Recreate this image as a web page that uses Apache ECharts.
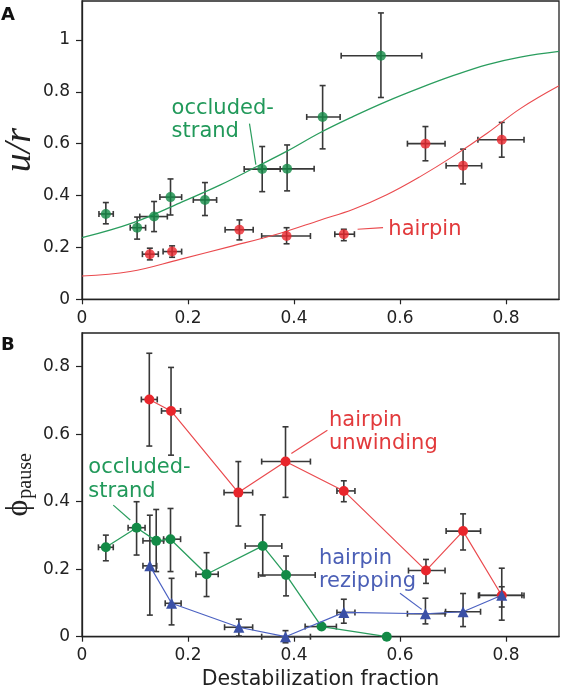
<!DOCTYPE html>
<html>
<head>
<meta charset="utf-8">
<script src="https://cdn.jsdelivr.net/npm/echarts@6/dist/echarts.min.js"></script>
<style>
html,body{margin:0;padding:0;background:#fff;}
#c{width:561px;height:686px;}
</style>
</head>
<body>
<div id="c"></div>
<script>
// ---------- data ----------
const xTicks = [0, 0.2, 0.4, 0.6, 0.8];
const yTicksA = [0, 0.2, 0.4, 0.6, 0.8, 1];
const yTicksB = [0, 0.2, 0.4, 0.6, 0.8];

// rows: [x, y, xLow, xHigh, yLow, yHigh]
const occludedA = [
  [0.045, 0.329, 0.032, 0.059, 0.291, 0.373],
  [0.104, 0.276, 0.091, 0.120, 0.232, 0.317],
  [0.136, 0.319, 0.109, 0.161, 0.261, 0.377],
  [0.167, 0.394, 0.147, 0.188, 0.325, 0.464],
  [0.232, 0.383, 0.210, 0.254, 0.323, 0.450],
  [0.340, 0.502, 0.306, 0.374, 0.415, 0.589],
  [0.387, 0.503, 0.340, 0.438, 0.418, 0.595],
  [0.454, 0.703, 0.424, 0.487, 0.580, 0.824],
  [0.564, 0.939, 0.489, 0.641, 0.778, 1.104]
];
const hairpinA = [
  [0.128, 0.174, 0.114, 0.144, 0.152, 0.197],
  [0.170, 0.184, 0.153, 0.188, 0.162, 0.206],
  [0.297, 0.268, 0.270, 0.323, 0.229, 0.306],
  [0.386, 0.244, 0.339, 0.431, 0.214, 0.276],
  [0.494, 0.251, 0.477, 0.514, 0.226, 0.270],
  [0.648, 0.600, 0.614, 0.685, 0.534, 0.666],
  [0.719, 0.515, 0.687, 0.754, 0.445, 0.579],
  [0.792, 0.615, 0.747, 0.834, 0.548, 0.682]
];
// model curves, sampled off the figure
const curveOccludedA = [
  [0, 0.238], [0.097, 0.296], [0.185, 0.372], [0.26, 0.44], [0.33, 0.512],
  [0.386, 0.57], [0.449, 0.642], [0.512, 0.705], [0.575, 0.763], [0.638, 0.815],
  [0.70, 0.862], [0.765, 0.905], [0.827, 0.934], [0.9, 0.956]
];
const curveHairpinA = [
  [0, 0.09], [0.091, 0.107], [0.185, 0.154], [0.279, 0.203], [0.374, 0.255],
  [0.449, 0.305], [0.512, 0.347], [0.575, 0.403], [0.638, 0.473], [0.70, 0.551],
  [0.765, 0.641], [0.827, 0.735], [0.9, 0.823]
];

const unwindingB = [
  [0.127, 0.703, 0.112, 0.142, 0.565, 0.840],
  [0.168, 0.669, 0.150, 0.186, 0.538, 0.798],
  [0.295, 0.427, 0.268, 0.322, 0.328, 0.519],
  [0.384, 0.519, 0.339, 0.431, 0.413, 0.622],
  [0.494, 0.432, 0.481, 0.515, 0.400, 0.462],
  [0.649, 0.196, 0.616, 0.685, 0.158, 0.229],
  [0.719, 0.313, 0.687, 0.752, 0.257, 0.364],
  [0.792, 0.122, 0.748, 0.834, 0.049, 0.203]
];
const occludedB = [
  [0.045, 0.265, 0.031, 0.059, 0.225, 0.301],
  [0.103, 0.323, 0.087, 0.119, 0.242, 0.400],
  [0.140, 0.284, 0.115, 0.154, 0.193, 0.377],
  [0.167, 0.289, 0.154, 0.186, 0.193, 0.380],
  [0.235, 0.185, 0.215, 0.257, 0.119, 0.249],
  [0.341, 0.269, 0.308, 0.377, 0.180, 0.361],
  [0.385, 0.183, 0.333, 0.440, 0.121, 0.239],
  [0.452, 0.030, 0.421, 0.480, null, null],
  [0.575, 0.000, null, null, null, null]
];
const rezippingB = [
  [0.128, 0.210, 0.115, 0.141, 0.064, 0.360],
  [0.169, 0.099, 0.157, 0.187, 0.035, 0.173],
  [0.296, 0.028, 0.269, 0.322, 0.002, 0.052],
  [0.384, 0.000, 0.339, 0.431, -0.018, 0.018],
  [0.494, 0.072, 0.481, 0.515, 0.040, 0.111],
  [0.648, 0.068, 0.614, 0.685, 0.038, 0.114],
  [0.719, 0.074, 0.686, 0.752, 0.030, 0.128],
  [0.792, 0.123, 0.750, 0.830, 0.088, 0.148]
];

// ---------- styles ----------
const GREEN = '#138a46', GREEN_T = '#21995a', GREEN_L = '#2a9d5e';
const RED = '#e8262c', RED_T = '#e23a3c', RED_L = '#ea4a4e';
const BLUE = '#3a50a6', BLUE_T = '#4b5fb6', BLUE_L = '#4c62c2';
const AX = '#222';
const ERR = '#383838';
const SANS = '"DejaVu Sans", sans-serif';
const SERIF = '"Liberation Serif", "DejaVu Serif", serif';

const chart = echarts.init(document.getElementById('c'), null, {renderer: 'canvas'});

function errSeries(rows, xi, yi, z) {
  return {
    type: 'custom', xAxisIndex: xi, yAxisIndex: yi, z: z || 1, silent: true,
    data: rows.map(r => r.map(v => v === null ? '-' : v)),
    encode: {x: 0, y: 1},
    clip: false,
    renderItem: function (params, api) {
      const x = api.value(0), y = api.value(1);
      const xl = api.value(2), xh = api.value(3), yl = api.value(4), yh = api.value(5);
      const cap = 3;
      const children = [];
      const ls = {stroke: ERR, lineWidth: 1.6};
      if (!isNaN(yl) && !isNaN(yh)) {
        const a = api.coord([x, yl]), b = api.coord([x, yh]);
        children.push({type: 'line', shape: {x1: a[0], y1: a[1], x2: b[0], y2: b[1]}, style: ls});
        children.push({type: 'line', shape: {x1: a[0] - cap, y1: a[1], x2: a[0] + cap, y2: a[1]}, style: ls});
        children.push({type: 'line', shape: {x1: b[0] - cap, y1: b[1], x2: b[0] + cap, y2: b[1]}, style: ls});
      }
      if (!isNaN(xl) && !isNaN(xh)) {
        const a = api.coord([xl, y]), b = api.coord([xh, y]);
        children.push({type: 'line', shape: {x1: a[0], y1: a[1], x2: b[0], y2: b[1]}, style: ls});
        children.push({type: 'line', shape: {x1: a[0], y1: a[1] - cap, x2: a[0], y2: a[1] + cap}, style: ls});
        children.push({type: 'line', shape: {x1: b[0], y1: b[1] - cap, x2: b[0], y2: b[1] + cap}, style: ls});
      }
      return {type: 'group', children: children};
    }
  };
}

function xAxisCfg(gi, margin, withName) {
  const c = {
    gridIndex: gi, type: 'value', min: 0, max: 0.9,
    axisLine: {show: true, lineStyle: {color: AX, width: 1.3}},
    axisTick: {show: true, inside: false, length: 5, lineStyle: {color: AX, width: 1.2}, customValues: xTicks},
    axisLabel: {margin: margin, fontSize: 17, fontFamily: SANS, color: AX, customValues: xTicks,
      formatter: v => String(v)},
    splitLine: {show: false}
  };
  if (withName) {
    c.name = 'Destabilization fraction';
    c.nameLocation = 'middle';
    c.nameGap = 32;
    c.nameMoveOverlap = false;
    c.nameTextStyle = {fontSize: 20.5, fontFamily: SANS, color: AX};
  }
  return c;
}
function yAxisCfg(gi, max, ticks, name, nameGap, nameStyle) {
  return {
    gridIndex: gi, type: 'value', min: 0, max: max,
    axisLine: {show: true, lineStyle: {color: AX, width: 1.3}},
    axisTick: {show: true, inside: false, length: 6, lineStyle: {color: AX, width: 1.2}, customValues: ticks},
    axisLabel: {margin: 12, fontSize: 17, fontFamily: SANS, color: AX, customValues: ticks,
      formatter: v => String(v)},
    splitLine: {show: false},
    name: name, nameLocation: 'middle', nameRotate: 90, nameGap: nameGap,
    nameMoveOverlap: false,
    nameTextStyle: nameStyle
  };
}

const option = {
  animation: false,
  backgroundColor: '#fff',
  grid: [
    {left: 82, right: 2, top: 1, bottom: 386.7, show: true, borderColor: AX, borderWidth: 1.3,
      containLabel: false, outerBoundsMode: 'none'},
    {left: 82, right: 2, top: 333, bottom: 49.3, show: true, borderColor: AX, borderWidth: 1.3,
      containLabel: false, outerBoundsMode: 'none'}
  ],
  xAxis: [xAxisCfg(0, 11, false), xAxisCfg(1, 10, true)],
  yAxis: [
    yAxisCfg(0, 1.15, yTicksA, 'u/r', 43,
      {fontFamily: SERIF, fontStyle: 'italic', fontSize: 38, color: AX}),
    yAxisCfg(1, 0.9, yTicksB, '{p|ϕ}{s|pause}', 46, {
      color: AX,
      rich: {
        p: {fontFamily: SERIF, fontSize: 32, color: AX, lineHeight: 34, verticalAlign: 'middle'},
        s: {fontFamily: SERIF, fontSize: 20, color: AX, lineHeight: 20, verticalAlign: 'bottom', padding: [0, 0, 0, 1]}
      }
    })
  ],
  series: [
    // Panel A
    errSeries(occludedA, 0, 0, 1),
    errSeries(hairpinA, 0, 0, 1),
    {type: 'line', xAxisIndex: 0, yAxisIndex: 0, data: curveOccludedA, smooth: 0.4, showSymbol: false,
      lineStyle: {color: GREEN_L, width: 1.3}, z: 2, silent: true},
    {type: 'line', xAxisIndex: 0, yAxisIndex: 0, data: curveHairpinA, smooth: 0.4, showSymbol: false,
      lineStyle: {color: RED_L, width: 1.1}, z: 2, silent: true},
    {type: 'scatter', xAxisIndex: 0, yAxisIndex: 0, data: occludedA.map(r => [r[0], r[1]]),
      symbol: 'circle', symbolSize: 10, itemStyle: {color: GREEN}, z: 3},
    {type: 'scatter', xAxisIndex: 0, yAxisIndex: 0, data: hairpinA.map(r => [r[0], r[1]]),
      symbol: 'circle', symbolSize: 10, itemStyle: {color: RED}, z: 3},
    // Panel B
    errSeries(unwindingB, 1, 1, 1),
    errSeries(occludedB, 1, 1, 1),
    errSeries(rezippingB, 1, 1, 1),
    {type: 'line', xAxisIndex: 1, yAxisIndex: 1, data: unwindingB.map(r => [r[0], r[1]]),
      symbol: 'circle', symbolSize: 10, itemStyle: {color: RED}, lineStyle: {color: RED_L, width: 1.2}, z: 3},
    {type: 'line', xAxisIndex: 1, yAxisIndex: 1, data: occludedB.map(r => [r[0], r[1]]),
      symbol: 'circle', symbolSize: 10, itemStyle: {color: GREEN}, lineStyle: {color: GREEN_L, width: 1.3}, z: 4},
    {type: 'line', xAxisIndex: 1, yAxisIndex: 1, data: rezippingB.map(r => [r[0], r[1]]),
      symbol: 'triangle', symbolSize: 11, itemStyle: {color: BLUE}, lineStyle: {color: BLUE_L, width: 1.2}, z: 5}
  ]
};
chart.setOption(option);

// ---------- annotations (placed in data coordinates) ----------
const textsA = [
  {t: 'occluded-', x: 0.169, y: 0.737, c: GREEN_T},
  {t: 'strand', x: 0.169, y: 0.647, c: GREEN_T},
  {t: 'hairpin', x: 0.578, y: 0.268, c: RED_T}
];
const leadersA = [
  {a: [0.316, 0.677], b: [0.328, 0.519], c: GREEN_L},
  {a: [0.520, 0.270], b: [0.568, 0.276], c: RED_L}
];
const textsB = [
  {t: 'hairpin', x: 0.466, y: 0.640, c: RED_T},
  {t: 'unwinding', x: 0.466, y: 0.573, c: RED_T},
  {t: 'occluded-', x: 0.012, y: 0.500, c: GREEN_T},
  {t: 'strand', x: 0.012, y: 0.431, c: GREEN_T},
  {t: 'hairpin', x: 0.447, y: 0.233, c: BLUE_T},
  {t: 'rezipping', x: 0.447, y: 0.164, c: BLUE_T}
];
const leadersB = [
  {a: [0.395, 0.543], b: [0.463, 0.612], c: RED_L},
  {a: [0.059, 0.390], b: [0.091, 0.346], c: GREEN_L},
  {a: [0.600, 0.129], b: [0.641, 0.081], c: BLUE_L}
];

const g = [];
function addTexts(list, gi) {
  list.forEach(o => {
    const p = chart.convertToPixel({gridIndex: gi}, [o.x, o.y]);
    g.push({type: 'text', z: 10, style: {text: o.t, x: p[0], y: p[1], fill: o.c, fontSize: 21,
      fontFamily: SANS, align: 'left', verticalAlign: 'middle'}});
  });
}
function addLeaders(list, gi) {
  list.forEach(o => {
    const a = chart.convertToPixel({gridIndex: gi}, o.a);
    const b = chart.convertToPixel({gridIndex: gi}, o.b);
    g.push({type: 'line', z: 10, shape: {x1: a[0], y1: a[1], x2: b[0], y2: b[1]}, style: {stroke: o.c, lineWidth: 1.2}});
  });
}
addTexts(textsA, 0); addLeaders(leadersA, 0);
addTexts(textsB, 1); addLeaders(leadersB, 1);
g.push({type: 'text', z: 10, style: {text: 'A', x: 1, y: 15, fill: '#111', fontSize: 18, fontWeight: 'bold',
  fontFamily: SANS, align: 'left', verticalAlign: 'middle'}});
g.push({type: 'text', z: 10, style: {text: 'B', x: 1, y: 345, fill: '#111', fontSize: 18, fontWeight: 'bold',
  fontFamily: SANS, align: 'left', verticalAlign: 'middle'}});
chart.setOption({graphic: g});
</script>
</body>
</html>
